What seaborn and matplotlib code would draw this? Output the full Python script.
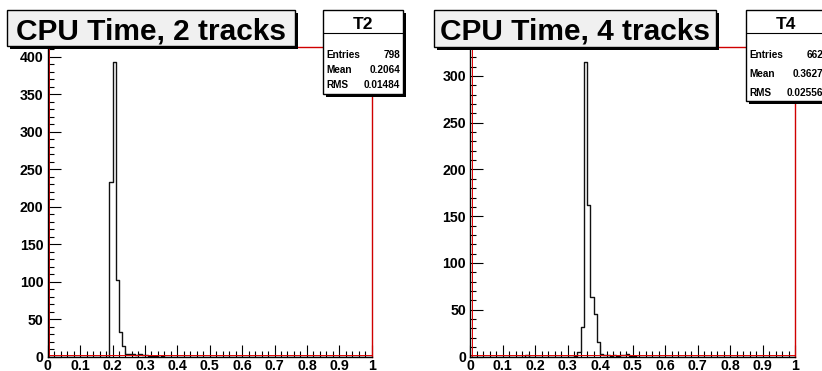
import numpy as np
import pandas as pd
import seaborn as sns
import matplotlib
matplotlib.use("Agg")
import matplotlib.pyplot as plt
from matplotlib.patches import Rectangle
from matplotlib.ticker import MultipleLocator
import matplotlib.transforms as mtransforms

# ---------------- data ----------------
left_bin_lo = [0.19, 0.20, 0.21, 0.22, 0.23, 0.24, 0.25, 0.26, 0.27, 0.28,
               0.29, 0.30, 0.31, 0.32, 0.33, 0.35]
left_counts = [233, 393, 102, 33, 14, 3, 4, 3, 2, 3, 2, 2, 1, 1, 1, 1]

right_bin_lo = [0.17, 0.32, 0.33, 0.34, 0.35, 0.36, 0.37, 0.38, 0.39, 0.40,
                0.41, 0.42, 0.43, 0.44, 0.45, 0.46, 0.47, 0.48, 0.49, 0.50]
right_counts = [2, 1, 5, 32, 315, 162, 64, 45, 16, 3, 2, 2, 1, 2, 1, 2, 2, 3, 1, 1]

titles = ["CPU Time, 2 tracks", "CPU Time, 4 tracks"]
stat_names = ["T2", "T4"]
stat_labels = ["Entries", "Mean", "RMS"]
stat_values = [["798", "0.2064", "0.01484"], ["662", "0.3627", "0.02556"]]
x_ticks = [0, 0.1, 0.2, 0.3, 0.4, 0.5, 0.6, 0.7, 0.8, 0.9, 1]
x_tick_labels = ["0", "0.1", "0.2", "0.3", "0.4", "0.5", "0.6", "0.7", "0.8", "0.9", "1"]
y_max = [413, 331]

# ---------------- style ----------------
sns.set_style("white")
plt.rcParams['font.family'] = ['Liberation Sans', 'DejaVu Sans']
plt.rcParams['font.weight'] = 'bold'
plt.rcParams['text.color'] = 'black'
plt.rcParams['xtick.color'] = 'black'
plt.rcParams['ytick.color'] = 'black'
plt.rcParams['xtick.labelcolor'] = 'black'
plt.rcParams['ytick.labelcolor'] = 'black'

W, H = 822, 371
fig = plt.figure(figsize=(W / 100, H / 100), dpi=100)
fig.patch.set_facecolor("white")

# pixel transform: (x from left, y from top) in pixels
pix = mtransforms.Affine2D().scale(1 / W, -1 / H).translate(0, 1) + fig.transFigure

frames = [(47.7, 371.7), (470.3, 795.0)]
frame_top, frame_bot = 47.0, 356.5

datasets = [(left_bin_lo, left_counts), (right_bin_lo, right_counts)]

for i, ((x0, x1), (lo, cnt)) in enumerate(zip(frames, datasets)):
    ax = fig.add_axes([x0 / W, 1 - frame_bot / H, (x1 - x0) / W, (frame_bot - frame_top) / H])
    df = pd.DataFrame({"t": np.array(lo) + 0.005, "n": np.array(cnt, dtype=float)})
    sns.histplot(data=df, x="t", weights="n", bins=100, binrange=(0, 1), element="step",
                 fill=False, color="#111111", linewidth=1.0, ax=ax)
    ax.set_xlim(0, 1)
    ax.set_ylim(0, y_max[i])
    ax.set_xlabel("")
    ax.set_ylabel("")
    ax.set_xticks(x_ticks)
    ax.set_xticklabels(x_tick_labels)
    ax.xaxis.set_minor_locator(MultipleLocator(0.02))
    ax.yaxis.set_major_locator(MultipleLocator(50))
    ax.yaxis.set_minor_locator(MultipleLocator(10))
    ax.tick_params(which="both", direction="in", color="black", width=0.8,
                   top=False, right=False, left=True, bottom=True)
    ax.tick_params(which="major", length=9)
    ax.tick_params(which="minor", length=4.5)
    ax.tick_params(axis="y", which="major", pad=3, labelsize=10.2, labelcolor="black")
    ax.tick_params(axis="x", which="major", pad=1.5, labelsize=10.2, labelcolor="black")
    for lab in ax.get_xticklabels() + ax.get_yticklabels():
        lab.set_fontweight("bold")
    for s in ["left", "bottom"]:
        ax.spines[s].set_color("black")
        ax.spines[s].set_linewidth(1.0)
    for s in ["right", "top"]:
        ax.spines[s].set_color("#d00000")
        ax.spines[s].set_linewidth(1.0)
    # red frame lines just inside the black axes
    offx = mtransforms.offset_copy(ax.transAxes, fig=fig, x=1.2, y=0, units="dots")
    offy = mtransforms.offset_copy(ax.transAxes, fig=fig, x=0, y=1.2, units="dots")
    ax.plot([0, 0], [0, 1], color="#e00000", lw=0.7, transform=offx, clip_on=False)
    ax.plot([0, 1], [0, 0], color="#e00000", lw=0.7, transform=offy, clip_on=False)

# ---------------- title boxes ----------------
def shadow_box(bx0, by0, bx1, by1, fc, shadow=3):
    fig.add_artist(Rectangle((bx0 + shadow, by0 + shadow), bx1 - bx0, by1 - by0,
                             transform=pix, facecolor="black", edgecolor="none", zorder=5))
    fig.add_artist(Rectangle((bx0, by0), bx1 - bx0, by1 - by0, transform=pix,
                             facecolor=fc, edgecolor="black", linewidth=1.0, zorder=6))

title_boxes = [(7, 10, 295, 46), (434, 10, 716, 47)]
for (bx0, by0, bx1, by1), t in zip(title_boxes, titles):
    shadow_box(bx0, by0, bx1, by1, "#f0f0f0")
    fig.text((bx0 + bx1) / 2, 40, t, transform=pix, ha="center", va="baseline",
             fontsize=21.5, fontweight="bold", color="black", zorder=7)

# ---------------- stats boxes ----------------
stat_boxes = [(323, 9.5, 403, 94, [55, 70, 85]), (746, 9.5, 826, 101, [55, 74, 93])]
for (bx0, by0, bx1, by1, rows), name, vals in zip(stat_boxes, stat_names, stat_values):
    shadow_box(bx0, by0, bx1, by1, "white")
    fig.add_artist(plt.Line2D([bx0, bx1], [33, 33], transform=pix, color="black",
                              lw=0.8, zorder=7))
    fig.text((bx0 + bx1) / 2, 29, name, transform=pix, ha="center", va="baseline",
             fontsize=12.5, fontweight="bold", color="black", zorder=7)
    for ry, lab, v in zip(rows, stat_labels, vals):
        fig.text(bx0 + 3, ry, lab, transform=pix, ha="left", va="center",
                 fontsize=7.2, fontweight="bold", color="black", zorder=7)
        fig.text(bx1 - 3, ry, v, transform=pix, ha="right", va="center",
                 fontsize=7.2, fontweight="bold", color="black", zorder=7)

fig.savefig("out.png", dpi=100)
